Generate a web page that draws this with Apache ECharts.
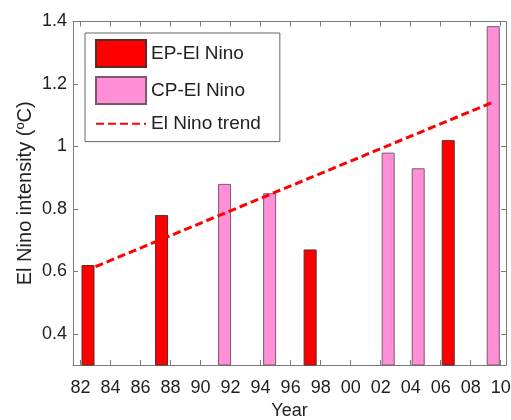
<!DOCTYPE html>
<html>
<head>
<meta charset="utf-8">
<script src="https://cdn.jsdelivr.net/npm/echarts@6/dist/echarts.min.js"></script>
<style>html,body{margin:0;padding:0;background:#fff;}#c{width:511px;height:420px;}</style>
</head>
<body>
<div id="c"></div>
<script>
// Data
const epYears = [82.5, 87.4, 97.3, 106.5];
const epValues = [0.62, 0.78, 0.67, 1.02];
const cpYears = [91.6, 94.6, 102.5, 104.5, 109.5];
const cpValues = [0.88, 0.85, 0.98, 0.93, 1.385];
const trendYears = [83, 109.5];
const trendValues = [0.615, 1.142];
const xTicks = [82, 84, 86, 88, 90, 92, 94, 96, 98, 100, 102, 104, 106, 108, 110];
const yTicks = [0.4, 0.6, 0.8, 1.0, 1.2, 1.4];
const seriesNames = ['EP-El Nino', 'CP-El Nino', 'El Nino trend'];

const FONT = 'Liberation Sans, Arial, sans-serif';
const AX = '#7a7a7a';
const TXT = '#222';

const pair = (xs, ys) => xs.map((x, i) => [x, ys[i]]);
const fmtYear = v => String(Math.round(v) % 100).padStart(2, '0');
const fmtY = v => String(+v.toFixed(1));

const chart = echarts.init(document.getElementById('c'));
chart.setOption({
  animation: false,
  backgroundColor: '#fff',
  grid: { left: 73, top: 21.5, right: 5, bottom: 55, containLabel: false, outerBoundsMode: 'none' },
  legend: {
    orient: 'vertical', left: 85, top: 33,
    padding: [6, 19, 7, 10],
    itemWidth: 50, itemHeight: 27, itemGap: 8,
    borderColor: '#666', borderWidth: 1, backgroundColor: '#fff',
    textStyle: { fontFamily: FONT, fontSize: 19, color: TXT },
    data: [
      { name: seriesNames[0], icon: 'rect' },
      { name: seriesNames[1], icon: 'rect' },
      { name: seriesNames[2], itemStyle: { color: 'rgba(0,0,0,0)', borderWidth: 0, opacity: 0 } }
    ]
  },
  xAxis: [{
    type: 'value', min: 81.5, max: 110.35,
    name: 'Year', nameLocation: 'middle', nameGap: 37, nameMoveOverlap: false,
    nameTextStyle: { fontFamily: FONT, fontSize: 18, color: TXT },
    axisLine: { show: true, onZero: false, lineStyle: { color: AX, width: 1 } },
    axisTick: { show: true, inside: true, length: 5, customValues: xTicks, lineStyle: { color: AX } },
    axisLabel: { customValues: xTicks, formatter: fmtYear, fontFamily: FONT, fontSize: 18, color: TXT, margin: 14 },
    splitLine: { show: false }
  }, {
    type: 'value', min: 81.5, max: 110.35, position: 'top',
    axisLine: { show: true, onZero: false, lineStyle: { color: AX, width: 1 } },
    axisTick: { show: true, inside: true, length: 5, customValues: xTicks, lineStyle: { color: AX } },
    axisLabel: { show: false },
    splitLine: { show: false }
  }],
  yAxis: [{
    type: 'value', min: 0.3, max: 1.4,
    name: 'El Nino intensity ({sup|o}C)', nameLocation: 'middle', nameGap: 36, nameRotate: 90, nameMoveOverlap: false,
    nameTextStyle: {
      fontFamily: FONT, fontSize: 20, color: TXT,
      rich: { sup: { fontFamily: FONT, fontSize: 13, color: TXT, padding: [0, 0, 10, 0] } }
    },
    axisLine: { show: true, onZero: false, lineStyle: { color: AX, width: 1 } },
    axisTick: { show: true, inside: true, length: 5, customValues: yTicks, lineStyle: { color: AX } },
    axisLabel: { customValues: yTicks, formatter: fmtY, fontFamily: FONT, fontSize: 18, color: TXT, margin: 6, padding: [4, 0, 0, 0] },
    splitLine: { show: false }
  }, {
    type: 'value', min: 0.3, max: 1.4, position: 'right',
    axisLine: { show: true, onZero: false, lineStyle: { color: AX, width: 1 } },
    axisTick: { show: true, inside: true, length: 5, customValues: yTicks, lineStyle: { color: AX } },
    axisLabel: { show: false },
    splitLine: { show: false }
  }],
  series: [{
    name: seriesNames[0], type: 'bar', xAxisIndex: 0, yAxisIndex: 0,
    barWidth: 13, barGap: '-100%',
    itemStyle: { color: '#ff0000', borderColor: '#5a2a2a', borderWidth: 1 },
    data: pair(epYears, epValues), z: 2
  }, {
    name: seriesNames[1], type: 'bar', xAxisIndex: 0, yAxisIndex: 0,
    barWidth: 13, barGap: '-100%',
    itemStyle: { color: '#ff8fd6', borderColor: '#7a5a6a', borderWidth: 1 },
    data: pair(cpYears, cpValues), z: 2
  }, {
    name: seriesNames[2], type: 'line', xAxisIndex: 0, yAxisIndex: 0,
    symbol: 'none', z: 5,
    lineStyle: { color: '#ff0000', width: 3, type: [8, 4] },
    itemStyle: { color: '#ff0000' },
    data: pair(trendYears, trendValues)
  }]
});
</script>
</body>
</html>
